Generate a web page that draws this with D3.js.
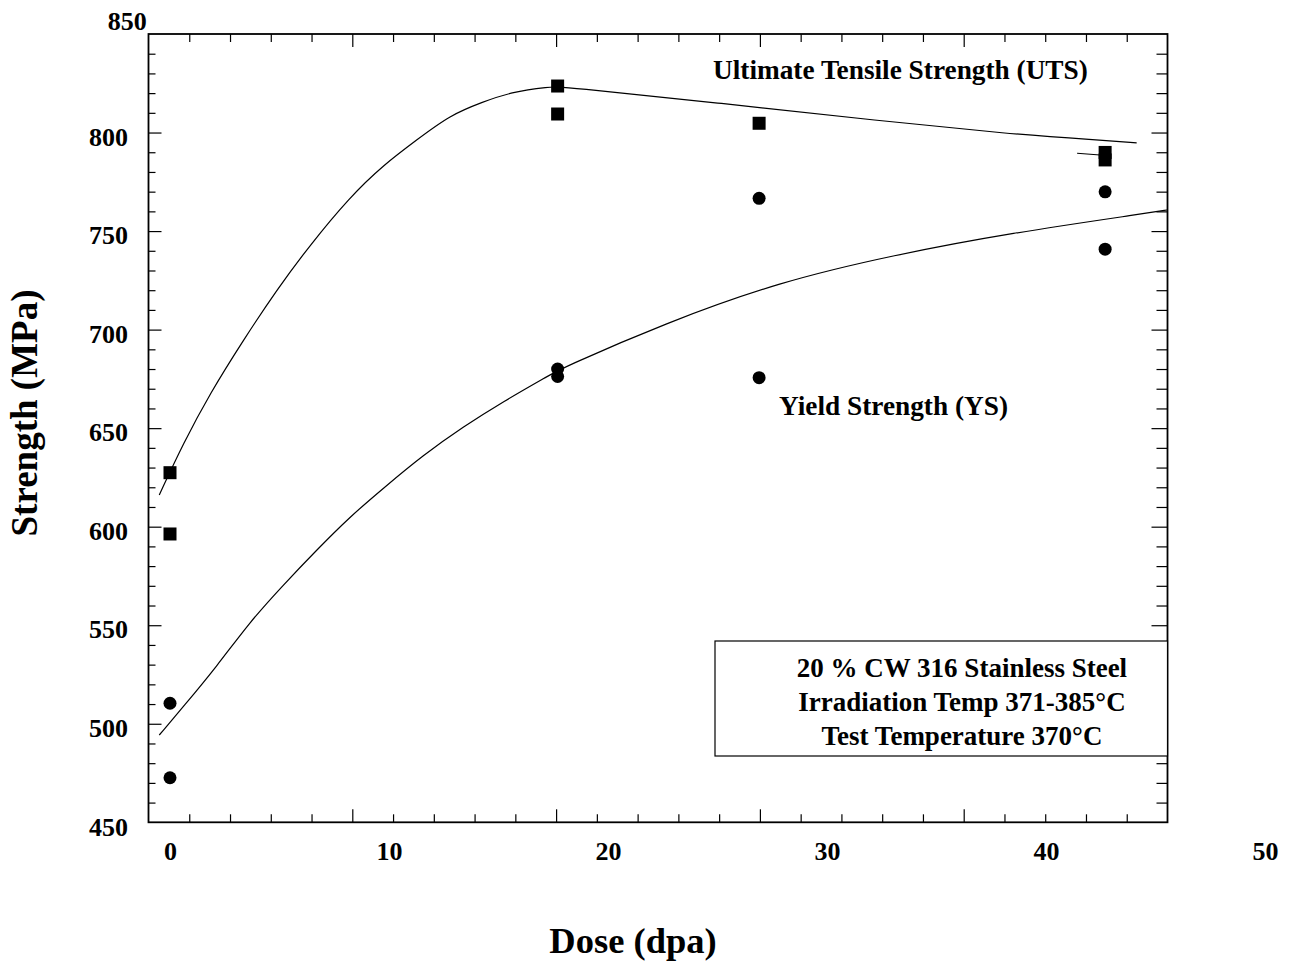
<!DOCTYPE html>
<html>
<head>
<meta charset="utf-8">
<script src="https://cdn.jsdelivr.net/npm/d3@7"></script>
<style>
  body { margin: 0; background: #fff; }
  text { font-family: "Liberation Serif", "Times New Roman", serif; font-weight: bold; fill: #000; }
</style>
</head>
<body>
<script>
/** tick labels */
const doseTicks = [0, 10, 20, 30, 40, 50]
const strengthTicks = [450, 500, 550, 600, 650, 700, 750, 800, 850]

/** measured points: ultimate tensile strength (squares) */
const utsDose = [0, 0, 17.7, 17.7, 26.9, 42.7, 42.7]
const utsValues = [627.4, 596.3, 823.6, 809.4, 804.7, 789.9, 786.1]

/** measured points: yield strength (circles) */
const ysDose = [0, 0, 17.7, 17.7, 26.9, 26.9, 42.7, 42.7]
const ysValues = [510.4, 472.6, 680.0, 676.2, 766.6, 675.6, 769.9, 740.8]

/** fitted curves */
const utsFitDose = [-0.49, 0.61, 1.83, 3.35, 4.87, 6.39, 8.22, 9.74, 11.26, 12.79, 14.31, 15.53, 17.35, 17.88, 25.21, 32.37, 38.31, 42.33, 44.14]
const utsFitValues = [616.1, 642.3, 667.7, 694.7, 720.1, 742.9, 767.4, 783.5, 796.2, 808.9, 815.6, 820.4, 823.3, 823.3, 814.8, 806.0, 799.3, 796.2, 794.8]
const ysFitDose = [-0.49, 0.61, 2.13, 3.65, 5.17, 6.70, 8.22, 9.74, 11.57, 13.39, 15.2, 17.35, 17.88, 22.59, 27.84, 33.08, 38.32, 44.75, 45.53]
const ysFitValues = [494.3, 508.7, 529.0, 551.8, 570.4, 588.2, 605.1, 619.5, 636.4, 650.7, 663.4, 677.0, 680.4, 703.2, 724.3, 737.9, 748.9, 759.3, 760.7]
/** short stray segment beside the last UTS pair */
const strayDose = [41.42, 42.47]
const strayValues = [789.5, 788.6]

const boxLines = ["20 % CW 316 Stainless Steel", "Irradiation Temp 371-385\u00B0C", "Test Temperature 370\u00B0C"]

const W = 1294, H = 964
const frame = {left: 148.5, right: 1167.5, top: 34, bottom: 822.3}

let svg = d3.select("body").append("svg")
    .attr("width", W)
    .attr("height", H)

/** scales: labels follow the data scale, tick marks follow the frame grid */
let x = d3.scaleLinear().domain([0, 50]).range([170, 1265])
let y = d3.scaleLinear().domain([450, 850]).range([frame.bottom, frame.top])
let xGrid = d3.scaleLinear().domain([0, 25]).range([frame.left, frame.right])

let minorX = d3.range(1, 25).filter(i => i % 5 != 0)
let majorX = [5, 10, 15, 20]
let minorY = d3.range(460, 850, 10).filter(v => v % 50 != 0)
let majorY = [500, 550, 600, 650, 700, 750, 800]

function tickAxis(axis, tr){
    let g = svg.append("g").attr("transform", tr).call(axis)
    g.select(".domain").remove()
    g.selectAll("text").remove()
    g.selectAll("line").attr("stroke", "#000").attr("stroke-width", 1.2)
}

/** inward ticks on all four sides */
tickAxis(d3.axisBottom(xGrid).tickValues(minorX).tickSize(-8), `translate(0,${frame.bottom})`)
tickAxis(d3.axisBottom(xGrid).tickValues(majorX).tickSize(-13), `translate(0,${frame.bottom})`)
tickAxis(d3.axisTop(xGrid).tickValues(minorX).tickSize(-8), `translate(0,${frame.top})`)
tickAxis(d3.axisTop(xGrid).tickValues(majorX).tickSize(-13), `translate(0,${frame.top})`)
tickAxis(d3.axisLeft(y).tickValues(minorY).tickSize(-7), `translate(${frame.left},0)`)
tickAxis(d3.axisLeft(y).tickValues(majorY).tickSize(-13), `translate(${frame.left},0)`)
tickAxis(d3.axisRight(y).tickValues(minorY).tickSize(-11), `translate(${frame.right},0)`)
tickAxis(d3.axisRight(y).tickValues(majorY).tickSize(-16), `translate(${frame.right},0)`)

/** frame */
svg.append("rect")
    .attr("x", frame.left).attr("y", frame.top)
    .attr("width", frame.right - frame.left).attr("height", frame.bottom - frame.top)
    .attr("fill", "none").attr("stroke", "#000").attr("stroke-width", 1.8)

/** x labels */
let xLab = svg.append("g")
    .attr("transform", "translate(0,860)")
    .call(d3.axisBottom(x).tickValues(doseTicks).tickSize(0).tickFormat(d3.format("d")))
xLab.select(".domain").remove()
xLab.selectAll("text").attr("y", 0).attr("dy", 0).style("font-size", "26px")

/** y labels */
let yLab = svg.append("g")
    .attr("transform", "translate(128,0)")
    .call(d3.axisLeft(y).tickValues(strengthTicks).tickSize(0).tickPadding(0))
yLab.select(".domain").remove()
yLab.selectAll("text").attr("dy", "0.49em").style("font-size", "26px")
yLab.selectAll("text").filter(d => d == 850)
    .attr("x", 18.7)
    .attr("dy", "-0.18em")

/** axis titles */
svg.append("text")
    .attr("x", 633).attr("y", 953)
    .attr("text-anchor", "middle")
    .style("font-size", "36.5px")
    .text("Dose (dpa)")
svg.append("text")
    .attr("transform", "translate(37,413) rotate(-90)")
    .attr("text-anchor", "middle")
    .style("font-size", "37px")
    .text("Strength (MPa)")

/** info box */
svg.append("rect")
    .attr("x", 715).attr("y", 641)
    .attr("width", frame.right - 715).attr("height", 115)
    .attr("fill", "#fff").attr("stroke", "#000").attr("stroke-width", 1.2)
svg.selectAll(".boxline")
    .data(boxLines)
    .enter().append("text")
    .attr("class", "boxline")
    .attr("x", 962)
    .attr("y", (d, i) => 677 + i * 34)
    .attr("text-anchor", "middle")
    .style("font-size", "27px")
    .text(d => d)

/** curve labels */
svg.append("text").attr("x", 713).attr("y", 79).style("font-size", "27.3px")
    .text("Ultimate Tensile Strength (UTS)")
svg.append("text").attr("x", 779).attr("y", 415).style("font-size", "27.3px")
    .text("Yield Strength (YS)")

/** fitted lines */
let line = d3.line().curve(d3.curveBasis).x(d => x(d[0])).y(d => y(d[1]))
let fits = [
    d3.zip(utsFitDose, utsFitValues),
    d3.zip(ysFitDose, ysFitValues),
    d3.zip(strayDose, strayValues)
]
svg.selectAll(".fit")
    .data(fits)
    .enter().append("path")
    .attr("class", "fit")
    .attr("d", line)
    .attr("fill", "none")
    .attr("stroke", "#000")
    .attr("stroke-width", 1.2)

/** markers */
svg.selectAll(".uts")
    .data(d3.zip(utsDose, utsValues))
    .enter().append("rect")
    .attr("class", "uts")
    .attr("x", d => x(d[0]) - 6.5)
    .attr("y", d => y(d[1]) - 6.5)
    .attr("width", 13).attr("height", 13)
    .attr("fill", "#000")

svg.selectAll(".ys")
    .data(d3.zip(ysDose, ysValues))
    .enter().append("circle")
    .attr("class", "ys")
    .attr("cx", d => x(d[0]))
    .attr("cy", d => y(d[1]))
    .attr("r", 6.5)
    .attr("fill", "#000")
</script>
</body>
</html>
